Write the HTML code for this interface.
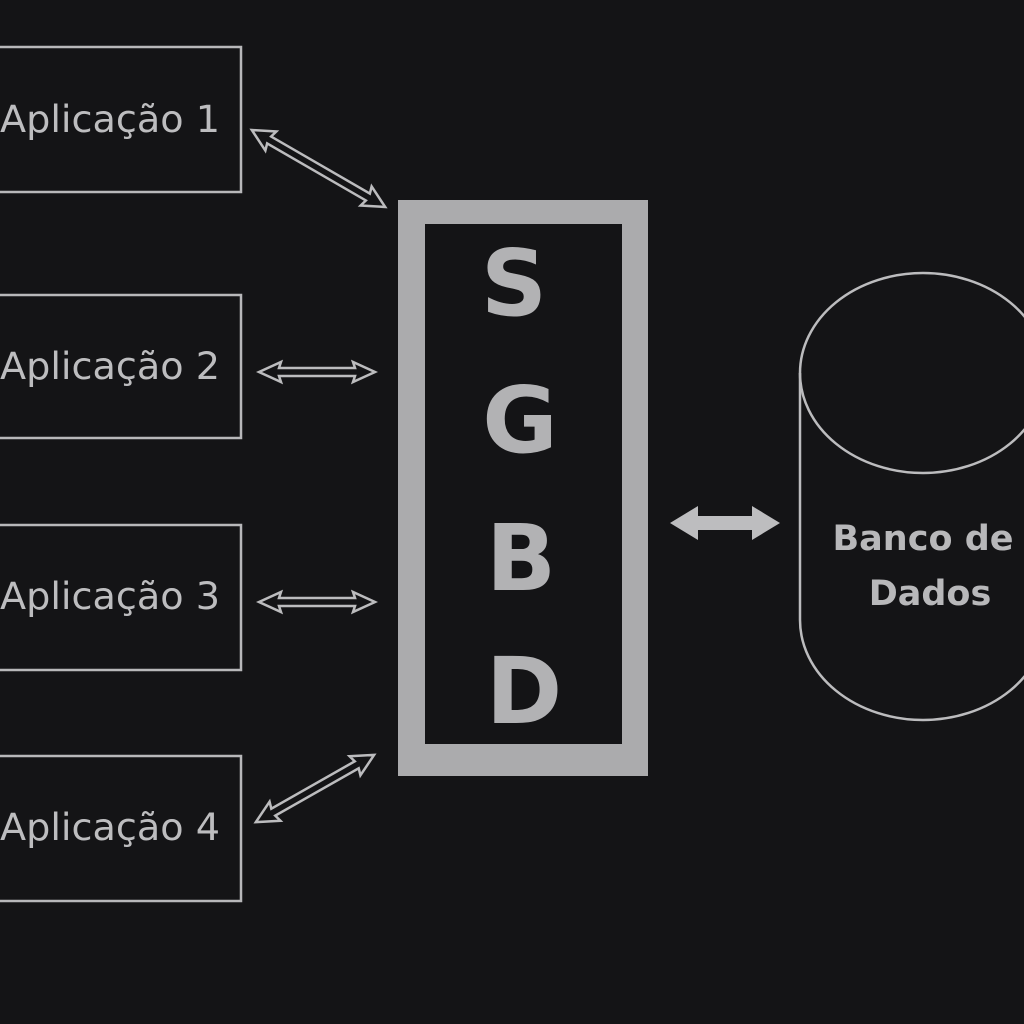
<!DOCTYPE html>
<html><head><meta charset="utf-8"><style>
html,body{margin:0;padding:0;background:#141416;}
svg{display:block;}
</style></head><body>
<svg width="1024" height="1024" viewBox="0 0 1024 1024" xmlns="http://www.w3.org/2000/svg">
<rect width="1024" height="1024" fill="#141416"/>
<g fill="none" stroke="#b8b8ba" stroke-width="2.5">
<rect x="-10" y="47" width="251" height="145"/>
<rect x="-10" y="295" width="251" height="143"/>
<rect x="-10" y="525" width="251" height="145"/>
<rect x="-10" y="756" width="251" height="145"/>
</g>
<g font-family="'DejaVu Sans','Liberation Sans',sans-serif" font-size="37" fill="#bdbdbf">
<text x="0" y="132" textLength="220" lengthAdjust="spacingAndGlyphs">Aplicação 1</text>
<text x="0" y="379" textLength="220" lengthAdjust="spacingAndGlyphs">Aplicação 2</text>
<text x="0" y="609" textLength="220" lengthAdjust="spacingAndGlyphs">Aplicação 3</text>
<text x="0" y="840" textLength="220" lengthAdjust="spacingAndGlyphs">Aplicação 4</text>
</g>
<g fill="none" stroke="#bcbcbe" stroke-width="2.5" stroke-linejoin="miter">
<g transform="translate(318.5,168.5) rotate(30)">
<polygon points="-77,0 -55,-11 -57,-4 57,-4 55,-11 77,0 55,11 57,4 -57,4 -55,11"/>
</g>
<g transform="translate(317,372)">
<polygon points="-58,0 -36,-10 -38,-4 38,-4 36,-10 58,0 36,10 38,4 -38,4 -36,10"/>
</g>
<g transform="translate(317,602)">
<polygon points="-58,0 -36,-10 -38,-4 38,-4 36,-10 58,0 36,10 38,4 -38,4 -36,10"/>
</g>
<g transform="translate(315,788.5) rotate(-29.6)">
<polygon points="-68,0 -46,-11 -48,-4 48,-4 46,-11 68,0 46,11 48,4 -48,4 -46,11"/>
</g>
</g>
<path fill="#ababad" fill-rule="evenodd" d="M398,200H648V776H398Z M425,224V744H622V224Z"/>
<g font-family="'DejaVu Sans','Liberation Sans',sans-serif" font-weight="bold" font-size="92" fill="#b2b2b4" text-anchor="middle">
<text x="514" y="315">S</text>
<text x="520" y="452">G</text>
<text x="521" y="590">B</text>
<text x="524" y="723">D</text>
</g>
<polygon fill="#bdbdbf" points="670,523 698,506 698,516 752,516 752,506 780,523 752,540 752,530 698,530 698,540"/>
<g fill="none" stroke="#bcbcbe" stroke-width="2.5">
<ellipse cx="923" cy="373" rx="123" ry="100"/>
<path d="M800,373V620A123,100 0 0 0 1046,620V373"/>
</g>
<g font-family="'DejaVu Sans','Liberation Sans',sans-serif" font-weight="bold" font-size="35" fill="#b8b8ba" text-anchor="middle">
<text x="923" y="550">Banco de</text>
<text x="930" y="605">Dados</text>
</g>
</svg>
</body></html>
